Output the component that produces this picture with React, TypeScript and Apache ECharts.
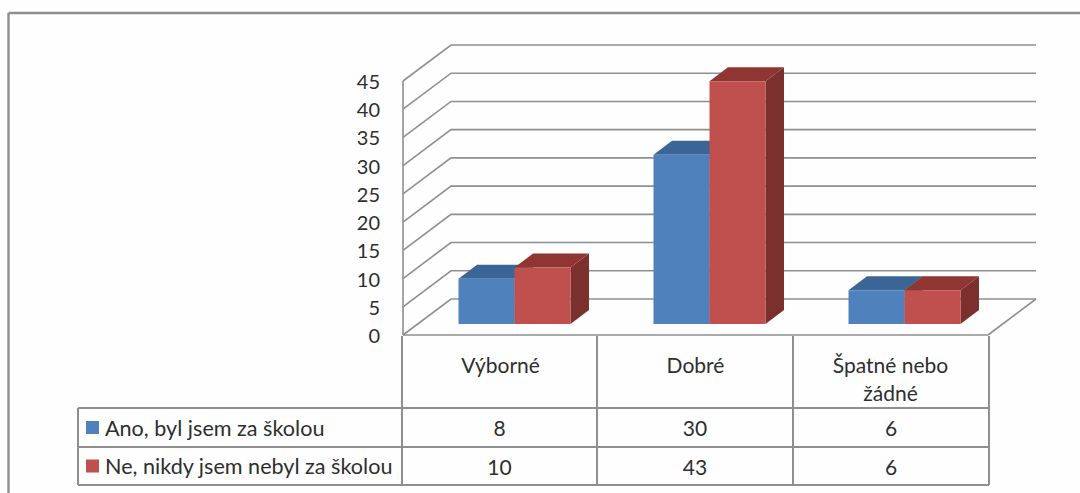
import React, { useEffect, useRef } from "react";
import * as echarts from "echarts";

const categories = ["Výborné", "Dobré", "Špatné nebo\nžádné"];
const seriesNames = ["Ano, byl jsem za školou", "Ne, nikdy jsem nebyl za školou"];
const anoValues = [8, 30, 6];
const neValues = [10, 43, 6];
const yTicks = [0, 5, 10, 15, 20, 25, 30, 35, 40, 45];

const FONT = "Lato";
const TEXT = "#2e2e2e";
const LINE = "#8f8f8f";
const GRID = { left: 403, top: 81, width: 585, height: 254 };
const WALL = { dx: 48, dy: 36 };
const BAR = { shiftX: 14, shiftY: 11, width: 56, dx: 18.5, dy: 14 };
const TABLE = { left: 78, col: [402, 597, 793, 989], top: 336, rows: [408, 447, 485] };

const blue = { face: "#4f81bd", top: "#3a6594", side: "#34597f" };
const red = { face: "#c0504d", top: "#8f3632", side: "#7c302d" };

function barSeries(name: string, values: number[], pal: typeof blue, offset: number) {
  return {
    type: "custom",
    name,
    z: 3 + offset,
    clip: false,
    silent: true,
    encode: { x: 0, y: 1 },
    data: values.map((v, i) => [i, v]),
    renderItem: (_p: any, api: any) => {
      const top = api.coord([api.value(0), api.value(1)]);
      const base = api.coord([api.value(0), 0]);
      const x0 = top[0] + BAR.shiftX + (offset - 1) * BAR.width;
      const x1 = x0 + BAR.width;
      const yT = top[1] - BAR.shiftY;
      const yB = base[1] - BAR.shiftY;
      const { dx, dy } = BAR;
      const poly = (points: number[][], fill: string) => ({
        type: "polygon",
        shape: { points },
        style: { fill, stroke: null },
      });
      return {
        type: "group",
        children: [
          poly([[x1, yT], [x1 + dx, yT - dy], [x1 + dx, yB - dy], [x1, yB]], pal.side),
          poly([[x0, yT], [x0 + dx, yT - dy], [x1 + dx, yT - dy], [x1, yT]], pal.top),
          poly([[x0, yT], [x1, yT], [x1, yB], [x0, yB]], pal.face),
        ],
      };
    },
  };
}

function wallSeries() {
  return {
    type: "custom",
    z: 1,
    clip: false,
    silent: true,
    encode: { y: 0 },
    data: yTicks.map((t) => [t]),
    renderItem: (p: any, api: any) => {
      const y = api.coord([0, api.value(0)])[1];
      const left = GRID.left;
      const right = GRID.left + GRID.width;
      const style = { stroke: LINE, lineWidth: 1.6, fill: null };
      const children: any[] = [
        {
          type: "polyline",
          shape: { points: [[left, y], [left + WALL.dx, y - WALL.dy], [right + WALL.dx, y - WALL.dy]] },
          style,
        },
      ];
      if (p.dataIndex === 0) {
        children.push({
          type: "polyline",
          shape: { points: [[right, y], [right + WALL.dx, y - WALL.dy]] },
          style,
        });
        children.push({
          type: "line",
          shape: { x1: left, y1: y, x2: left, y2: GRID.top },
          style,
        });
        children.push({
          type: "line",
          shape: { x1: left, y1: y, x2: right, y2: y },
          style,
        });
      }
      return { type: "group", children };
    },
  };
}

function tableGraphics() {
  const line = (x1: number, y1: number, x2: number, y2: number) => ({
    type: "line",
    shape: { x1, y1, x2, y2 },
    style: { stroke: LINE, lineWidth: 2 },
  });
  const text = (x: number, y: number, t: string, align: string, size: number) => ({
    type: "text",
    x,
    y,
    style: { text: t, fill: TEXT, font: `${size}px ${FONT}`, textAlign: align, textVerticalAlign: "middle" },
  });
  const { left, col, top, rows } = TABLE;
  const out: any[] = [
    { type: "line", shape: { x1: 8.5, y1: 13, x2: 1080, y2: 13 }, style: { stroke: LINE, lineWidth: 2.4 } },
    { type: "line", shape: { x1: 8.5, y1: 13, x2: 8.5, y2: 493 }, style: { stroke: LINE, lineWidth: 2.4 } },
  ];
  col.forEach((x) => out.push(line(x, top, x, rows[2])));
  out.push(line(left, rows[0], left, rows[2]));
  rows.forEach((y) => out.push(line(left, y, col[3], y)));

  [anoValues, neValues].forEach((vals, r) => {
    const cy = (rows[r] + rows[r + 1]) / 2;
    const pal = r === 0 ? blue : red;
    out.push({ type: "rect", shape: { x: 86, y: cy - 6.5, width: 13, height: 13 }, style: { fill: pal.face } });
    out.push(text(105, cy, seriesNames[r], "left", 21.6));
    vals.forEach((v, i) => out.push(text((col[i] + col[i + 1]) / 2, cy, String(v), "center", 21)));
  });
  return out;
}

export default function App() {
  const ref = useRef<HTMLDivElement>(null);
  useEffect(() => {
    const chart = echarts.init(ref.current!, null, { renderer: "svg" });
    chart.setOption({
      animation: false,
      backgroundColor: "#fefefe",
      grid: { ...GRID, containLabel: false },
      xAxis: {
        type: "category",
        data: categories,
        axisLine: { show: false },
        axisTick: { show: false },
        axisLabel: {
          margin: 15,
          interval: 0,
          color: TEXT,
          fontFamily: FONT,
          fontSize: 21,
          lineHeight: 28,
          verticalAlign: "top",
        },
      },
      yAxis: {
        type: "value",
        min: 0,
        max: 45,
        interval: 5,
        axisLine: { show: false },
        axisTick: { show: false },
        splitLine: { show: false },
        axisLabel: { margin: 23, color: TEXT, fontFamily: FONT, fontSize: 20, padding: [3, 0, 0, 0] },
      },
      series: [wallSeries(), barSeries(seriesNames[0], anoValues, blue, 0), barSeries(seriesNames[1], neValues, red, 1)],
      graphic: { elements: tableGraphics() },
    });
    return () => chart.dispose();
  }, []);
  return <div ref={ref} style={{ position: "fixed", left: 0, top: 0, width: 1080, height: 493 }} />;
}
